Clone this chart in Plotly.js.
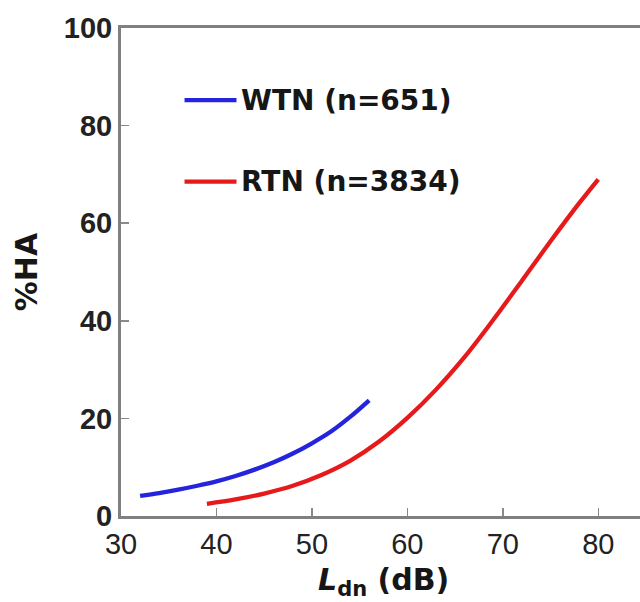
<!DOCTYPE html>
<html>
<head>
<meta charset="utf-8">
<script src="https://cdn.plot.ly/plotly-3.0.1.min.js"></script>
<style>
  html, body { margin: 0; padding: 0; overflow: hidden; background: #fff; }
  #chart { width: 650px; height: 602px; }
</style>
</head>
<body>
<div id="chart"></div>
<script>
// ---- data ----
const seriesNames = ["WTN (n=651)", "RTN (n=3834)"];
const seriesColors = ["#2424dc", "#e61a1a"];

const wtnLdn = [32, 34, 36, 38, 40, 42, 44, 46, 48, 50, 52, 54, 56];
const wtnHA  = [4.1, 4.7, 5.4, 6.2, 7.1, 8.2, 9.5, 11.0, 12.8, 14.9, 17.3, 20.3, 23.7];

const rtnLdn = [39, 42, 45, 48, 51, 54, 57, 60, 63, 66, 69, 72, 75, 78, 80];
const rtnHA  = [2.5, 3.4, 4.6, 6.2, 8.4, 11.3, 15.2, 20.1, 25.9, 32.6, 40.2, 48.2, 56.3, 64.1, 69.0];

const xTicks = [30, 40, 50, 60, 70, 80];
const yTicks = [0, 20, 40, 60, 80, 100];
const xTitle = "<b><i>L</i><sub>dn</sub> (dB)</b>";
const yTitle = "<b>%HA</b>";

const traces = [
  { x: wtnLdn, y: wtnHA, name: seriesNames[0], type: "scatter", mode: "lines",
    line: { color: seriesColors[0], width: 4.3, shape: "spline" }, showlegend: false },
  { x: rtnLdn, y: rtnHA, name: seriesNames[1], type: "scatter", mode: "lines",
    line: { color: seriesColors[1], width: 4.3, shape: "spline" }, showlegend: false }
];

const legendRowsY = [0.852, 0.685];
const shapes = [];
const annotations = [];
seriesNames.forEach((nm, i) => {
  shapes.push({ type: "line", xref: "paper", yref: "paper",
    x0: 0.121, x1: 0.220, y0: legendRowsY[i], y1: legendRowsY[i],
    line: { color: seriesColors[i], width: 4.3 } });
  annotations.push({ xref: "paper", yref: "paper", x: 0.224, y: legendRowsY[i],
    xanchor: "left", yanchor: "middle", showarrow: false, text: "<b>" + nm + "</b>",
    font: { family: "DejaVu Sans", size: 28, color: "#161616" } });
});
// x axis title placed as an annotation so it can sit as low as in the reference
annotations.push({ xref: "paper", yref: "paper", x: 0.5, y: -0.134,
  xanchor: "center", yanchor: "middle", showarrow: false, text: xTitle,
  font: { family: "DejaVu Sans", size: 30, color: "#161616" } });

const layout = {
  width: 650, height: 602,
  margin: { l: 121, r: 4, t: 28, b: 86 },
  paper_bgcolor: "#ffffff", plot_bgcolor: "#ffffff",
  showlegend: false,
  xaxis: {
    range: [30, 85], tickvals: xTicks, ticktext: xTicks.map(String),
    ticks: "inside", ticklen: 8, tickwidth: 1.5, tickcolor: "#8a8a8a",
    showline: true, linecolor: "#808080", linewidth: 3, mirror: true,
    showgrid: false, zeroline: false,
    tickfont: { family: "Liberation Sans", size: 29, color: "#222" }
  },
  yaxis: {
    range: [0, 100], tickvals: yTicks, ticktext: yTicks.map(String),
    ticks: "inside", ticklen: 8, tickwidth: 1.5, tickcolor: "#8a8a8a",
    showline: true, linecolor: "#808080", linewidth: 3, mirror: false,
    showgrid: false, zeroline: false,
    tickfont: { family: "Liberation Sans", size: 29, color: "#222", weight: "bold" },
    title: { text: yTitle, standoff: 18,
      font: { family: "DejaVu Sans", size: 30, color: "#161616" } }
  },
  shapes: shapes,
  annotations: annotations
};

Plotly.newPlot("chart", traces, layout, { staticPlot: true, displayModeBar: false });
</script>
</body>
</html>
